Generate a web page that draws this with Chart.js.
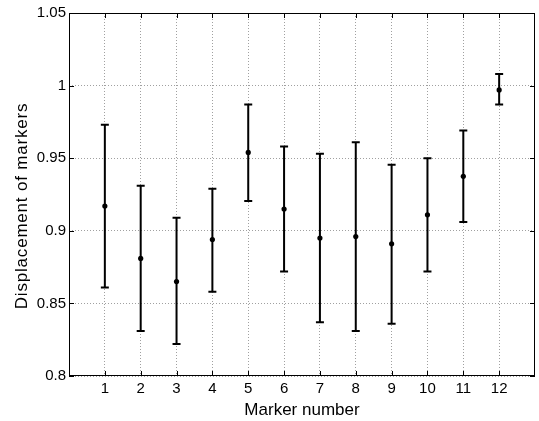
<!DOCTYPE html>
<html>
<head>
<meta charset="utf-8">
<script src="https://cdn.jsdelivr.net/npm/chart.js@4.4.1/dist/chart.umd.min.js"></script>
<style>
  body { margin: 0; background: #fff; }
  #wrap { width: 539px; height: 421px; }
</style>
</head>
<body>
<div id="wrap"><canvas id="errChart" width="539" height="421"></canvas></div>
<script>
// values
const markerNumbers = [1, 2, 3, 4, 5, 6, 7, 8, 9, 10, 11, 12];
const meanDisp  = [0.917, 0.881, 0.865, 0.894, 0.954, 0.915, 0.895, 0.896, 0.891, 0.911, 0.9375, 0.997];
const upperDisp = [0.973, 0.931, 0.909, 0.929, 0.987, 0.958, 0.953, 0.961, 0.9455, 0.950, 0.969, 1.008];
const lowerDisp = [0.861, 0.831, 0.822, 0.858, 0.9205, 0.872, 0.837, 0.831, 0.836, 0.872, 0.906, 0.987];
const yTickValues = [0.8, 0.85, 0.9, 0.95, 1, 1.05];
const xLabel = 'Marker number';
const yLabel = 'Displacement of markers';

Chart.defaults.font.family = "'Liberation Sans', Arial, sans-serif";
Chart.defaults.color = '#000';

// error bars, box and inward ticks (matlab look)
const errorBars = {
    id: 'errorBars',
    beforeDatasetsDraw(chart) {
        const { ctx, scales: { x, y } } = chart;
        ctx.save();
        ctx.strokeStyle = '#000';
        ctx.lineWidth = 2;
        markerNumbers.forEach((m, i) => {
            const px = x.getPixelForValue(m);
            const top = y.getPixelForValue(upperDisp[i]);
            const bot = y.getPixelForValue(lowerDisp[i]);
            ctx.beginPath();
            ctx.moveTo(px, top); ctx.lineTo(px, bot);
            ctx.moveTo(px - 4, top); ctx.lineTo(px + 4, top);
            ctx.moveTo(px - 4, bot); ctx.lineTo(px + 4, bot);
            ctx.stroke();
        });
        ctx.restore();
    },
    afterDraw(chart) {
        const { ctx, chartArea: a, scales: { x, y } } = chart;
        ctx.save();
        ctx.strokeStyle = '#000';
        ctx.lineWidth = 1;
        ctx.strokeRect(Math.round(a.left) + 0.5, Math.round(a.top) + 0.5,
            Math.round(a.right - a.left) - 1, Math.round(a.bottom - a.top) - 1);
        ctx.beginPath();
        x.ticks.forEach(t => {
            const px = Math.round(x.getPixelForValue(t.value)) + 0.5;
            ctx.moveTo(px, a.bottom); ctx.lineTo(px, a.bottom - 5);
            ctx.moveTo(px, a.top); ctx.lineTo(px, a.top + 5);
        });
        y.ticks.forEach(t => {
            const py = Math.round(y.getPixelForValue(t.value)) + 0.5;
            ctx.moveTo(a.left, py); ctx.lineTo(a.left + 5, py);
            ctx.moveTo(a.right, py); ctx.lineTo(a.right - 5, py);
        });
        ctx.stroke();

        // y label
        ctx.fillStyle = '#000';
        ctx.font = "17px 'Liberation Sans', Arial, sans-serif";
        ctx.letterSpacing = '0.8px';
        ctx.translate(27, 206);
        ctx.rotate(-Math.PI / 2);
        ctx.textAlign = 'center';
        ctx.textBaseline = 'alphabetic';
        ctx.fillText(yLabel, 0, 0);
        ctx.restore();
    }
};

const ctx = document.getElementById('errChart').getContext('2d');
const errChart = new Chart(ctx, {
    type: 'scatter',
    data: {
        datasets: [{
            label: 'mean',
            data: markerNumbers.map((m, i) => ({ x: m, y: meanDisp[i] })),
            pointRadius: 2.6,
            pointBackgroundColor: '#000',
            pointBorderWidth: 0,
            showLine: false
        }]
    },
    options: {
        responsive: false,
        animation: false,
        layout: { padding: { top: 13, right: 2, bottom: 0, left: 0 } },
        plugins: {
            legend: { display: false },
            tooltip: { enabled: false }
        },
        scales: {
            x: {
                type: 'linear',
                min: 0,
                max: 13,
                afterBuildTicks: s => { s.ticks = markerNumbers.map(v => ({ value: v })); },
                afterFit: s => { s.height = 45; },
                ticks: { autoSkip: false, padding: 4, font: { size: 15 }, maxRotation: 0 },
                grid: { color: '#a0a0a0', drawTicks: false, lineWidth: 1 },
                border: { display: false, dash: [1, 2] },
                title: { display: true, text: xLabel, font: { size: 17 }, padding: 0 }
            },
            y: {
                min: 0.8,
                max: 1.05,
                afterBuildTicks: s => { s.ticks = yTickValues.map(v => ({ value: v })); },
                afterFit: s => { s.width = 69; },
                ticks: { autoSkip: false, padding: 3, font: { size: 15 }, callback: v => String(v) },
                grid: { color: '#a0a0a0', drawTicks: false, lineWidth: 1 },
                border: { display: false, dash: [1, 2] }
            }
        }
    },
    plugins: [errorBars]
});
</script>
</body>
</html>
